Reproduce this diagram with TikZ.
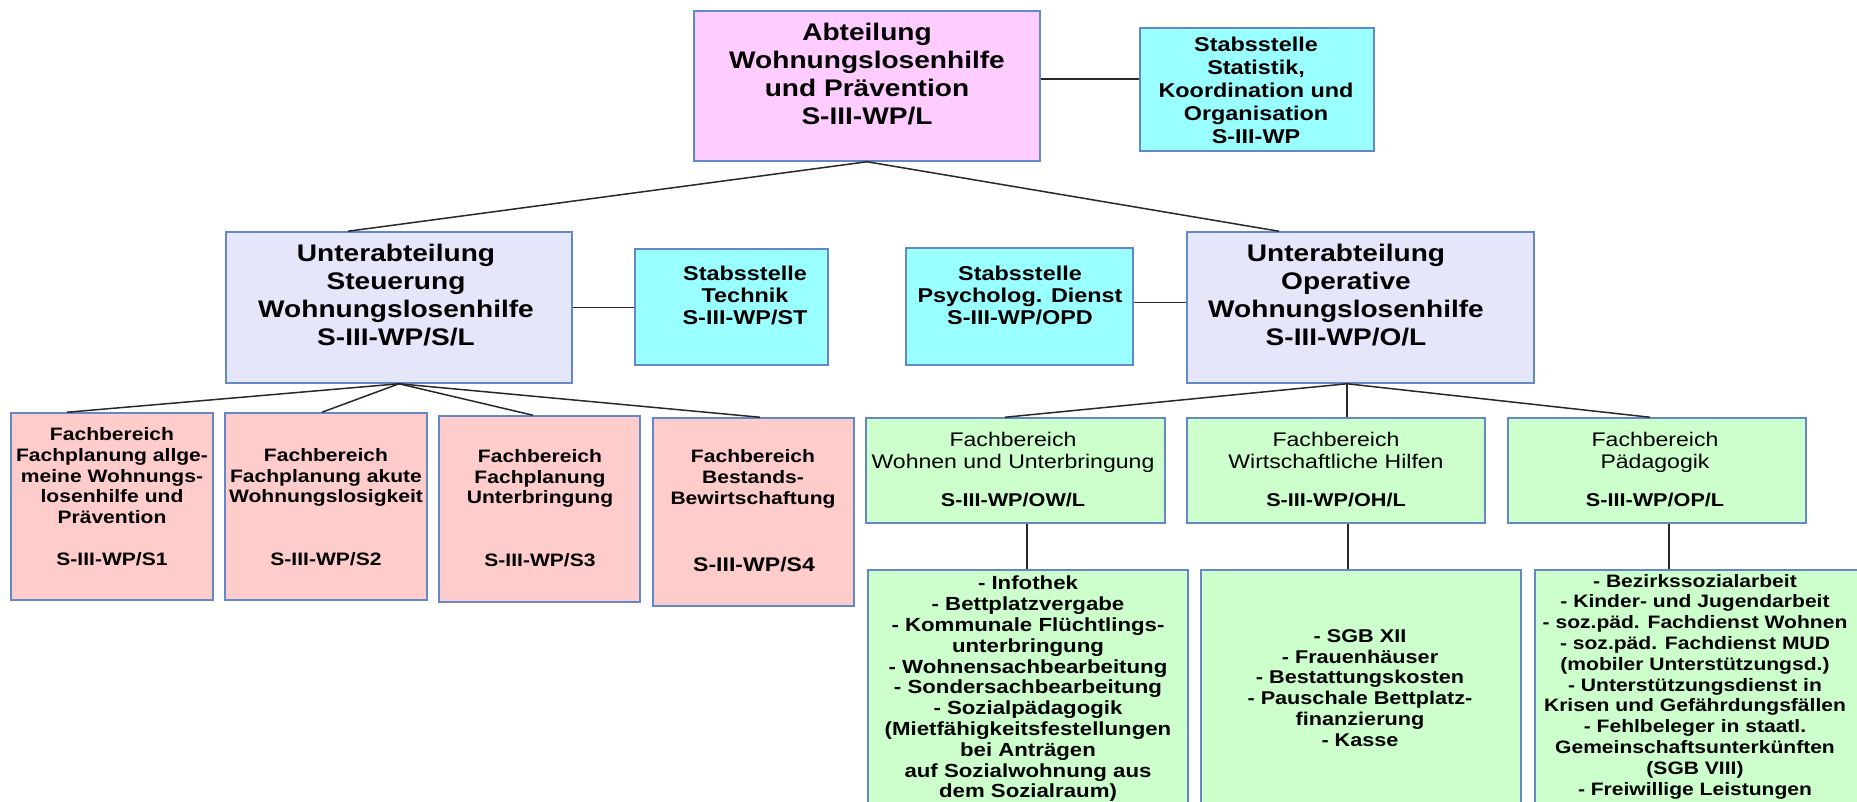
\documentclass[tikz,border=0pt]{standalone}
\usepackage{fontspec}
\setmainfont{Liberation Sans}[FakeStretch=1.17]
\definecolor{cPink}{RGB}{255,204,255}
\definecolor{cCyan}{RGB}{153,255,255}
\definecolor{cLav}{RGB}{230,230,250}
\definecolor{cRose}{RGB}{255,204,204}
\definecolor{cGreen}{RGB}{204,255,204}
\definecolor{bordc}{RGB}{100,135,200}
\definecolor{linec}{RGB}{40,40,40}
\begin{document}
\begin{tikzpicture}[x=1pt,y=-1pt,
  box/.style={draw=bordc, line width=1.5pt, inner sep=0pt},
  conn/.style={draw=linec, line width=1.5pt},
  txt/.style={align=center, inner sep=0pt, text=black},
  fbig/.style={font=\fontsize{24}{28}\selectfont\bfseries},
  fstab/.style={font=\fontsize{20}{22}\selectfont\bfseries},
  fpink/.style={font=\fontsize{18}{20.8}\selectfont\bfseries},
  fgreen/.style={font=\fontsize{19.7}{22}\selectfont},
  flist/.style={font=\fontsize{18}{20.8}\selectfont\bfseries}]
\useasboundingbox (0,0) rectangle (1857,801);
\clip (0,0) rectangle (1857,801);
\fill[white] (0,0) rectangle (1857,801);

% boxes
\node[box, fill=cPink, minimum width=346, minimum height=150] (top) at (867,86) {};
\node[box, fill=cCyan, minimum width=234, minimum height=123] (stats) at (1257,89.5) {};
\node[box, fill=cLav, minimum width=346, minimum height=151] (lsub) at (399,307.5) {};
\node[box, fill=cCyan, minimum width=193, minimum height=116] (tech) at (731.5,307) {};
\node[box, fill=cCyan, minimum width=227, minimum height=117] (psych) at (1019.5,306.5) {};
\node[box, fill=cLav, minimum width=347, minimum height=151] (rsub) at (1360.5,307.5) {};
\node[box, fill=cRose, minimum width=202, minimum height=187] (s1) at (112,506.5) {};
\node[box, fill=cRose, minimum width=202, minimum height=187] (s2) at (326,506.5) {};
\node[box, fill=cRose, minimum width=201, minimum height=186] (s3) at (539.5,509) {};
\node[box, fill=cRose, minimum width=201, minimum height=188] (s4) at (753.5,512) {};
\node[box, fill=cGreen, minimum width=299, minimum height=105] (ow) at (1015.5,470.5) {};
\node[box, fill=cGreen, minimum width=298, minimum height=105] (oh) at (1336,470.5) {};
\node[box, fill=cGreen, minimum width=298, minimum height=105] (op) at (1657,470.5) {};
\node[box, fill=cGreen, minimum width=320, minimum height=270] (owl) at (1028,705) {};
\node[box, fill=cGreen, minimum width=320, minimum height=270] (ohl) at (1361,705) {};
\node[box, fill=cGreen, minimum width=325, minimum height=270] (opl) at (1697.5,705) {};

% connectors
\draw[conn] ([yshift=7pt]top.east) -- ([yshift=7pt]top.east -| stats.west);
\draw[conn] (lsub.east) -- (lsub.east -| tech.west);
\draw[conn] ([yshift=4pt]psych.east) -- ([yshift=4pt]psych.east -| rsub.west);
\draw[conn] ([xshift=-51pt]lsub.north) -- (top.south) -- ([xshift=-81.5pt]rsub.north);
\draw[conn] ([xshift=-45pt]s1.north) -- (lsub.south) -- ([xshift=6.5pt]s4.north);
\draw[conn] ([xshift=-4pt]s2.north) -- (lsub.south) -- ([xshift=-6.5pt]s3.north);
\draw[conn] ([xshift=-10.5pt]ow.north) -- ([xshift=-13.5pt]rsub.south) -- ([xshift=-7pt]op.north);
\draw[conn] ([xshift=-13.5pt]rsub.south) -- ([xshift=-13.5pt]rsub.south |- oh.north);
\draw[conn] ([xshift=11.5pt]ow.south) -- ([xshift=11.5pt]ow.south |- owl.north);
\draw[conn] ([xshift=12pt]oh.south) -- ([xshift=12pt]oh.south |- ohl.north);
\draw[conn] ([xshift=12pt]op.south) -- ([xshift=12pt]op.south |- opl.north);

% texts
\node[txt,fbig] (topt) at (867,74) {Abteilung\\Wohnungslosenhilfe\\und Prävention\\S-III-WP/L};
\node[txt,font=\fontsize{20}{23}\selectfont\bfseries] (statst) at (1256,90) {Stabsstelle\\Statistik,\\Koordination und\\Organisation\\S-III-WP};
\node[txt,fbig] (lsubt) at (396,295) {Unterabteilung\\Steuerung\\Wohnungslosenhilfe\\S-III-WP/S/L};
\node[txt,fbig] (rsubt) at (1346,295) {Unterabteilung\\Operative\\Wohnungslosenhilfe\\S-III-WP/O/L};
\node[txt,fstab] (techt) at (745,295) {Stabsstelle\\Technik\\S-III-WP/ST};
\node[txt,fstab] (psycht) at (1020,295) {Stabsstelle\\Psycholog. Dienst\\S-III-WP/OPD};
\node[txt,fpink] (s1t) at (112,496.5) {Fachbereich\\Fachplanung allge-\\meine Wohnungs-\\losenhilfe und\\Prävention\\[20.8pt]S-III-WP/S1};
\node[txt,fpink] (s2t) at (326,507) {Fachbereich\\Fachplanung akute\\Wohnungslosigkeit\\[41.6pt]S-III-WP/S2};
\node[txt,fpink] (s3t) at (540,508) {Fachbereich\\Fachplanung\\Unterbringung\\[41.6pt]S-III-WP/S3};
\node[txt,fpink] (s4t) at (753,479) {Fachbereich\\Bestands-\\Bewirtschaftung};
\node[txt,font=\fontsize{19.7}{22}\selectfont\bfseries] (s4c) at (754,565) {S-III-WP/S4};
\node[txt,fgreen] (owt) at (1013,470) {Fachbereich\\Wohnen und Unterbringung\\[16pt]\textbf{\fontsize{18.5}{22}\selectfont S-III-WP/OW/L}};
\node[txt,fgreen] (oht) at (1336,470) {Fachbereich\\Wirtschaftliche Hilfen\\[16pt]\textbf{\fontsize{18.5}{22}\selectfont S-III-WP/OH/L}};
\node[txt,fgreen] (opt) at (1655,470) {Fachbereich\\Pädagogik\\[16pt]\textbf{\fontsize{18.5}{22}\selectfont S-III-WP/OP/L}};
\node[txt,font=\fontsize{19}{20.8}\selectfont\bfseries] (owlt) at (1028,689) {- Infothek\\- Bettplatzvergabe\\- Kommunale Flüchtlings-\\unterbringung\\- Wohnensachbearbeitung\\- Sondersachbearbeitung\\- Sozialpädagogik\\(Mietfähigkeitsfestellungen\\bei Anträgen\\auf Sozialwohnung aus\\dem Sozialraum)};
\node[txt,font=\fontsize{18.5}{20.8}\selectfont\bfseries] (ohlt) at (1360,688) {- SGB XII\\- Frauenhäuser\\- Bestattungskosten\\- Pauschale Bettplatz-\\finanzierung\\- Kasse};
\node[txt,flist] (oplt) at (1695,686.5) {- Bezirkssozialarbeit\\- Kinder- und Jugendarbeit\\- soz.päd. Fachdienst Wohnen\\- soz.päd. Fachdienst MUD\\(mobiler Unterstützungsd.)\\- Unterstützungsdienst in\\Krisen und Gefährdungsfällen\\- Fehlbeleger in staatl.\\Gemeinschaftsunterkünften\\(SGB VIII)\\- Freiwillige Leistungen};
\end{tikzpicture}
\end{document}
